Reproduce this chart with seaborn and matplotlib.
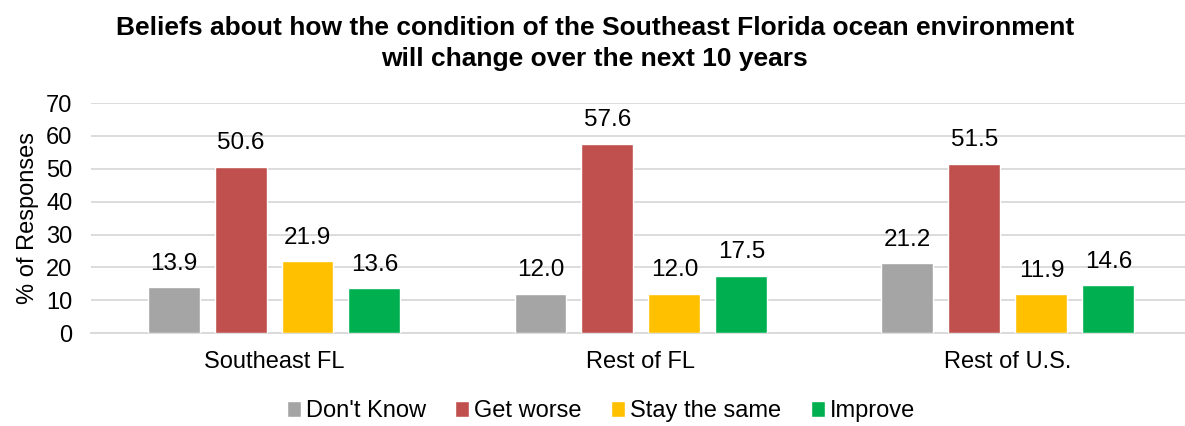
import pandas as pd
import matplotlib.pyplot as plt
import seaborn as sns

regions = ["Southeast FL", "Rest of FL", "Rest of U.S."]
answers = ["Don't Know", "Get worse", "Stay the same", "Improve"]
dont_know = [13.9, 12.0, 21.2]
get_worse = [50.6, 57.6, 51.5]
stay_same = [21.9, 12.0, 11.9]
improve = [13.6, 17.5, 14.6]
colors = ["#A5A5A5", "#C0504D", "#FFC000", "#00B050"]

df = pd.DataFrame({
    "region": regions * 4,
    "answer": [a for a in answers for _ in regions],
    "pct": dont_know + get_worse + stay_same + improve,
})

sns.set_theme(style="white")
plt.rcParams["font.family"] = ["Liberation Sans", "DejaVu Sans"]
plt.rcParams["text.color"] = "black"

fig = plt.figure(figsize=(11.85, 4.26), dpi=100)
ax = fig.add_axes([0.0764, 0.218, 0.929, 0.54])

sns.barplot(data=df, x="region", y="pct", hue="answer", order=regions,
            hue_order=answers, palette=colors, width=0.73, gap=0.224,
            saturation=1, ax=ax, zorder=3)

for c in ax.containers:
    ax.bar_label(c, fmt="%.1f", padding=9, fontsize=17.5)

ax.set_ylim(0, 70)
ax.set_yticks(range(0, 71, 10))
ax.yaxis.grid(True, color="#D9D9D9", linewidth=1.3, zorder=0)
for s in ["top", "right", "left"]:
    ax.spines[s].set_visible(False)
ax.spines["bottom"].set_color("#D9D9D9")
ax.spines["bottom"].set_linewidth(1.3)
ax.tick_params(axis="both", labelsize=17, length=0, colors="black")
ax.tick_params(axis="y", pad=13)
ax.tick_params(axis="x", pad=13)
ax.set_xlabel("")
ax.set_ylabel("% of Responses", fontsize=17, labelpad=5, color="black")

fig.suptitle("Beliefs about how the condition of the Southeast Florida ocean environment\nwill change over the next 10 years",
             fontsize=19, fontweight="bold", x=0.502, y=0.962, linespacing=1.37, color="black")

ax.legend(loc="center", bbox_to_anchor=(0.507, 0.035), bbox_transform=fig.transFigure,
          ncol=4, frameon=False, fontsize=17, handlelength=0.6, handleheight=0.7,
          handletextpad=0.2, columnspacing=1.25)

fig.savefig("out.png", dpi=100)
